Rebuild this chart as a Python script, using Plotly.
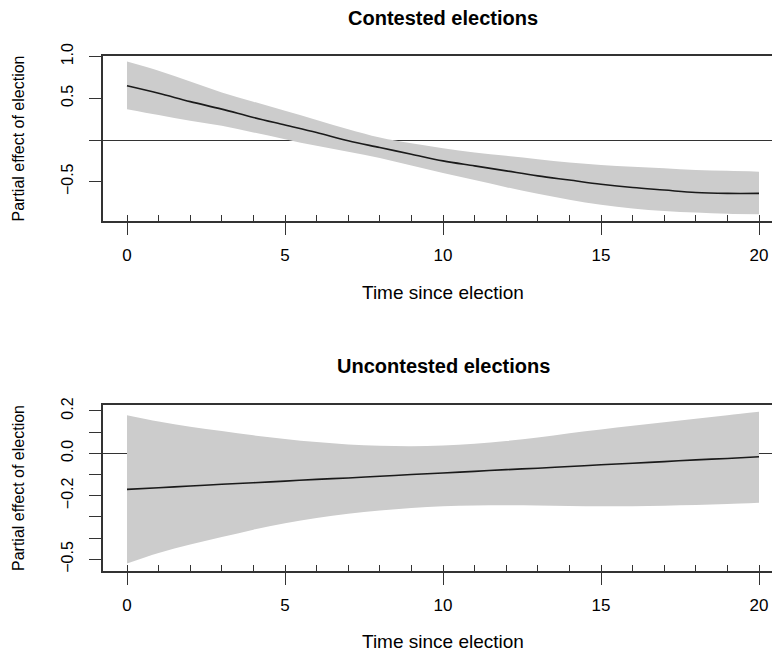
import plotly.graph_objects as go

# ---------------- data ----------------
years = list(range(0, 21))

# Contested elections
contested_fit = [0.65, 0.56, 0.46, 0.37, 0.27, 0.18, 0.09, -0.01, -0.09, -0.17, -0.25,
                 -0.31, -0.37, -0.43, -0.48, -0.53, -0.57, -0.60, -0.63, -0.64, -0.64]
contested_upper = [0.94, 0.83, 0.70, 0.57, 0.46, 0.35, 0.24, 0.13, 0.03, -0.04, -0.10,
                   -0.15, -0.19, -0.23, -0.27, -0.30, -0.32, -0.34, -0.36, -0.37, -0.38]
contested_lower = [0.37, 0.30, 0.23, 0.17, 0.09, 0.01, -0.07, -0.14, -0.215, -0.305, -0.395,
                   -0.48, -0.565, -0.645, -0.715, -0.775, -0.82, -0.85, -0.87, -0.885, -0.89]

# Uncontested elections
uncontested_fit = [-0.170, -0.162, -0.154, -0.146, -0.139, -0.131, -0.123, -0.116, -0.108,
                   -0.100, -0.093, -0.085, -0.077, -0.070, -0.062, -0.054, -0.047, -0.039,
                   -0.031, -0.024, -0.016]
uncontested_upper = [0.180, 0.150, 0.125, 0.105, 0.085, 0.068, 0.053, 0.042, 0.036, 0.034,
                     0.037, 0.045, 0.058, 0.075, 0.095, 0.113, 0.130, 0.147, 0.163, 0.180, 0.196]
uncontested_lower = [-0.520, -0.470, -0.430, -0.395, -0.360, -0.330, -0.305, -0.285, -0.270,
                     -0.258, -0.250, -0.246, -0.245, -0.246, -0.248, -0.249, -0.249, -0.247,
                     -0.244, -0.239, -0.233]

x_ticks = [0, 5, 10, 15, 20]
top_yticks = [1.0, 0.5, 0.0, -0.5]
top_ylabels = ["1.0", "0.5", "", "\u22120.5"]
bot_yticks = [0.2, 0.1, 0.0, -0.1, -0.2, -0.3, -0.4, -0.5]
bot_ylabels = ["0.2", "", "0.0", "", "\u22120.2", "", "", "\u22120.5"]

titles = ["Contested elections", "Uncontested elections"]
x_title = "Time since election"
y_title = "Partial effect of election"

# ---------------- style ----------------
# The page shows the figure with an 8px body offset; positions below are
# given in screen pixels and converted to figure pixels.
OFF = 8
W, H = 780, 657
L = 103 - OFF
FONT = "Liberation Sans, Arial, Helvetica, sans-serif"
BAND = "#cccccc"
FRAME = "#333333"

def px_x(s):
    return (s - OFF - L) / (W - L)

def px_y(s):
    return 1 - (s - OFF) / H

fig = go.Figure()

def add_panel(xa, ya, up, lo, fit):
    fig.add_trace(go.Scatter(x=years, y=up, mode="lines", line=dict(width=0, color=BAND, shape="spline"),
                             xaxis=xa, yaxis=ya, hoverinfo="skip", showlegend=False))
    fig.add_trace(go.Scatter(x=years, y=lo, mode="lines", line=dict(width=0, color=BAND, shape="spline"),
                             fill="tonexty", fillcolor=BAND,
                             xaxis=xa, yaxis=ya, hoverinfo="skip", showlegend=False))
    fig.add_trace(go.Scatter(x=years, y=fit, mode="lines",
                             line=dict(width=1.6, color="#1a1a1a", shape="spline"),
                             xaxis=xa, yaxis=ya, showlegend=False))

add_panel("x", "y", contested_upper, contested_lower, contested_fit)
add_panel("x2", "y2", uncontested_upper, uncontested_lower, uncontested_fit)

# invisible traces on minor-tick overlay axes
fig.add_trace(go.Scatter(x=[0], y=[0], mode="markers", marker=dict(opacity=0),
                         xaxis="x3", yaxis="y", hoverinfo="skip", showlegend=False))
fig.add_trace(go.Scatter(x=[0], y=[0], mode="markers", marker=dict(opacity=0),
                         xaxis="x4", yaxis="y2", hoverinfo="skip", showlegend=False))

# screen: x=0 at 127px, x=20 at 759px
PXU = (759 - 127) / 20.0
x0 = -(127 - 103) / PXU
XR = [x0, x0 + (W - L) / PXU]
xtickfont = dict(family=FONT, size=17, color="black")
ytickfont = dict(family=FONT, size=16, color="black")

def xaxis_major(anchor):
    return dict(anchor=anchor, domain=[0, 1], range=XR, tickmode="array", tickvals=x_ticks,
                ticktext=[str(v) for v in x_ticks], ticks="outside", ticklen=12, tickwidth=1.3,
                tickcolor=FRAME, showline=True, mirror=True, linecolor=FRAME, linewidth=1.5,
                showgrid=False, zeroline=False, tickfont=xtickfont, ticklabelstandoff=6,
                automargin=False)

def xaxis_minor(over, anchor):
    return dict(overlaying=over, anchor=anchor, range=XR, tickmode="linear", tick0=0, dtick=1,
                ticks="inside", ticklen=6, tickwidth=1.1, tickcolor=FRAME, showticklabels=False,
                showline=False, showgrid=False, zeroline=False, automargin=False)

def yaxis(anchor, dom, rng, tv, tt):
    return dict(anchor=anchor, domain=dom, range=rng, tickmode="array", tickvals=tv, ticktext=tt,
                ticks="outside", ticklen=12, tickwidth=1.3, tickcolor=FRAME, tickangle=-90,
                showline=True, mirror=False, linecolor=FRAME, linewidth=1.5,
                showgrid=False, zeroline=True, zerolinecolor=FRAME, zerolinewidth=1.3,
                tickfont=ytickfont, ticklabelstandoff=10, automargin=False)

fig.update_layout(
    width=W, height=H,
    margin=dict(l=L, r=0, t=0, b=0, autoexpand=False),
    paper_bgcolor="white", plot_bgcolor="white",
    xaxis=xaxis_major("y"),
    xaxis2=xaxis_major("y2"),
    xaxis3=xaxis_minor("x", "y"),
    xaxis4=xaxis_minor("x2", "y2"),
    yaxis=yaxis("x", [px_y(221), px_y(56)], [-0.971, 1.007], top_yticks, top_ylabels),
    yaxis2=yaxis("x2", [px_y(571), px_y(405)], [-0.555, 0.228], bot_yticks, bot_ylabels),
    font=dict(family=FONT, color="black"),
)

ann = []
for t, yc in zip(titles, [18, 366]):
    ann.append(dict(text="<b>%s</b>" % t, xref="paper", yref="paper", x=px_x(443), y=px_y(yc),
                    xanchor="center", yanchor="middle", showarrow=False,
                    font=dict(family=FONT, size=20, color="black")))
for yc in [292, 641]:
    ann.append(dict(text=x_title, xref="paper", yref="paper", x=px_x(443), y=px_y(yc),
                    xanchor="center", yanchor="middle", showarrow=False,
                    font=dict(family=FONT, size=19, color="black")))
for yc in [138.5, 488]:
    ann.append(dict(text=y_title, xref="paper", yref="paper", x=px_x(18), y=px_y(yc),
                    xanchor="center", yanchor="middle", textangle=-90, showarrow=False,
                    font=dict(family=FONT, size=16, color="black")))
fig.update_layout(annotations=ann)

fig.write_html("out.html")
